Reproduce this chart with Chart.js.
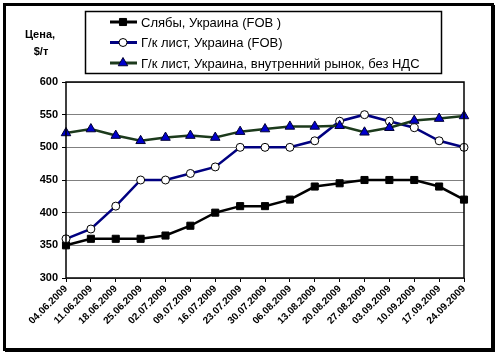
<!DOCTYPE html>
<html>
<head>
<meta charset="utf-8">
<script src="https://cdn.jsdelivr.net/npm/chart.js@4"></script>
<style>
  html, body { margin: 0; padding: 0; background: #fff; }
  #wrap { width: 500px; height: 360px; position: relative; }
</style>
</head>
<body>
<div id="wrap"><canvas id="grafico1" width="500" height="360"></canvas></div>
<script>
// данные с графика
const dates = ['04.06.2009', '11.06.2009', '18.06.2009', '25.06.2009', '02.07.2009', '09.07.2009',
  '16.07.2009', '23.07.2009', '30.07.2009', '06.08.2009', '13.08.2009', '20.08.2009',
  '27.08.2009', '03.09.2009', '10.09.2009', '17.09.2009', '24.09.2009'];
const slabsFob = [350, 360, 360, 360, 365, 380, 400, 410, 410, 420, 440, 445, 450, 450, 450, 440, 420];
const hrcFob = [360, 375, 410, 450, 450, 460, 470, 500, 500, 500, 510, 540, 550, 540, 530, 510, 500];
const hrcDomestic = [522, 528, 518, 510, 515, 518, 515, 524, 528, 532, 532, 533, 523, 530, 541, 544, 548];
const seriesNames = ['Слябы, Украина (FOB )', 'Г/к лист, Украина (FOB)', 'Г/к лист, Украина, внутренний рынок, без НДС'];
const yTicks = [300, 350, 400, 450, 500, 550, 600];

const FONT = '"Liberation Sans", Arial, sans-serif';

// рамка, подпись оси и легенда
const decorPlugin = {
  id: 'decor',
  beforeDraw(chart) {
    const c = chart.ctx;
    c.save();
    c.fillStyle = '#fff';
    c.fillRect(0, 0, 500, 360);
    c.restore();
  },
  afterDraw(chart) {
    const c = chart.ctx;
    const a = chart.chartArea;
    c.save();
    // рамка области построения
    c.strokeStyle = '#000';
    c.lineWidth = 1.5;
    c.strokeRect(a.left, a.top, a.right - a.left, a.bottom - a.top);

    // внешняя рамка
    c.lineWidth = 3;
    c.strokeRect(4.5, 4.5, 488, 345);
    c.fillStyle = '#000';
    c.fillRect(493, 5, 2, 347);
    c.fillRect(5, 350, 490, 2);

    // подпись оси
    c.font = 'bold 11px ' + FONT;
    c.textAlign = 'center';
    c.textBaseline = 'middle';
    c.fillText('Цена,', 40, 35);
    c.fillText('$/т', 41, 52);

    // легенда
    c.lineWidth = 1.5;
    c.strokeRect(85.5, 11.5, 356, 62);
    c.font = '13px ' + FONT;
    c.textAlign = 'left';
    chart.data.datasets.forEach((ds, i) => {
      const y = 22 + i * 20.5;
      c.strokeStyle = ds.borderColor;
      c.lineWidth = 3;
      c.beginPath();
      c.moveTo(110, y);
      c.lineTo(137, y);
      c.stroke();
      c.fillStyle = ds.pointBackgroundColor;
      c.strokeStyle = ds.pointBorderColor;
      c.lineWidth = 1;
      Chart.helpers.drawPoint(c, {
        pointStyle: ds.pointStyle, radius: ds.pointRadius, rotation: 0, borderWidth: 1
      }, 123, y);
      c.fillStyle = '#000';
      c.fillText(ds.label, 141, y + 1);
    });
    c.restore();
  }
};

new Chart(document.getElementById('grafico1').getContext('2d'), {
  type: 'line',
  data: {
    labels: dates,
    datasets: [
      {
        label: seriesNames[0],
        data: slabsFob,
        borderColor: '#000',
        borderWidth: 2.5,
        pointStyle: 'rect',
        pointRadius: 5,
        pointBackgroundColor: '#000',
        pointBorderColor: '#000',
        pointBorderWidth: 1,
        tension: 0,
        order: 3
      },
      {
        label: seriesNames[1],
        data: hrcFob,
        borderColor: '#000080',
        borderWidth: 2.5,
        pointStyle: 'circle',
        pointRadius: 4,
        pointBackgroundColor: '#fff',
        pointBorderColor: '#000',
        pointBorderWidth: 1,
        tension: 0,
        order: 2
      },
      {
        label: seriesNames[2],
        data: hrcDomestic,
        borderColor: '#1c3a1c',
        borderWidth: 2.5,
        pointStyle: 'triangle',
        pointRadius: 5.5,
        pointBackgroundColor: '#0000cc',
        pointBorderColor: '#000033',
        pointBorderWidth: 1,
        tension: 0,
        order: 1
      }
    ]
  },
  options: {
    responsive: false,
    animation: false,
    devicePixelRatio: 1,
    layout: { padding: { left: 0, top: 82, right: 36, bottom: 0 } },
    plugins: { legend: { display: false }, tooltip: { enabled: false } },
    scales: {
      x: {
        offset: false,
        afterFit(scale) { scale.height = 82; },
        grid: { drawOnChartArea: false, drawTicks: true, tickLength: 4, tickColor: '#000' },
        border: { display: false },
        ticks: {
          minRotation: 45, maxRotation: 45, autoSkip: false, padding: 1,
          color: '#000', font: { family: FONT, size: 10, weight: 'bold' }
        }
      },
      y: {
        min: 300,
        max: 600,
        afterFit(scale) { scale.width = 66; },
        afterBuildTicks(scale) { scale.ticks = yTicks.map(v => ({ value: v })); },
        grid: { color: '#808080', lineWidth: 1, tickLength: 4, tickColor: '#000' },
        border: { display: false },
        ticks: {
          padding: 4, color: '#000',
          font: { family: FONT, size: 11, weight: 'bold' }
        }
      }
    }
  },
  plugins: [decorPlugin]
});
</script>
</body>
</html>
